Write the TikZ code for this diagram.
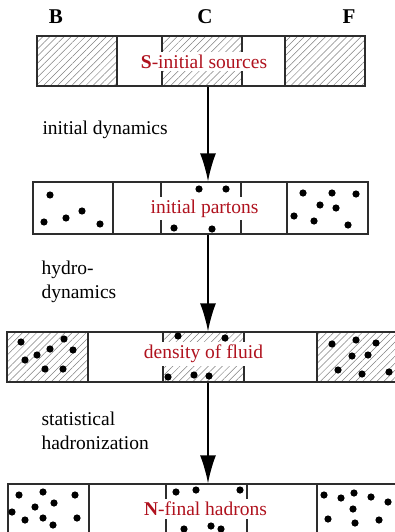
\documentclass[tikz,border=0pt]{standalone}
\usepackage{fontspec}
\setmainfont{Liberation Serif}
\usetikzlibrary{patterns.meta,arrows.meta}
\definecolor{tred}{RGB}{176,18,30}
\definecolor{bline}{RGB}{45,45,45}
\begin{document}
\begin{tikzpicture}[x=1pt,y=-1pt,
 hatch/.style={pattern={Lines[angle=45,distance=5pt,line width=0.5pt]},pattern color=black!50},
 frame/.style={draw=bline,line width=1.4pt},
 dot/.style={fill=black},
 lbl/.style={font=\fontsize{19.5}{24}\selectfont, text=tred, fill=white, inner xsep=4pt, inner ysep=3pt},
 side/.style={font=\fontsize{19.5}{24}\selectfont, anchor=base west},
 head/.style={font=\fontsize{21}{24}\selectfont\bfseries, anchor=base},
 arr/.style={line width=1.5pt, -{Latex[length=28pt,width=16pt]}}]
\useasboundingbox (0,0) rectangle (395,532);
\clip (0,0) rectangle (395,532);

% headers
\node[head] (hB) at (56,24) {B};
\node[head] (hC) at (205,24) {C};
\node[head] (hF) at (349,24) {F};

% ---------- row 1 ----------
\fill[hatch] (37,36) rectangle (117,86);
\fill[hatch] (285,36) rectangle (365,86);
\fill[hatch] (162,36) rectangle (242,86);
\draw[frame] (162,36) -- (162,86) (242,36) -- (242,86);
\node[frame, minimum width=328pt, minimum height=50pt, inner sep=0pt] (row1) at (201,61) {};
\draw[frame] (117,36) -- (117,86) (285,36) -- (285,86);
\node[lbl] (t1) at (204,61.5) {\textbf{S}-initial sources};

% ---------- row 2 ----------
\node[frame, minimum width=335pt, minimum height=52pt, inner sep=0pt] (row2) at (200.5,208) {};
\draw[frame] (113,182) -- (113,234) (287,182) -- (287,234);
\draw[frame] (161,182) -- (161,234) (241,182) -- (241,234);
\foreach \p in {(50,195),(44,222),(66,218),(82,211),(100,224),
                (199,189),(226,189),(174,228),(212,229),
                (303,193),(332,193),(356,194),(320,205),(336,208),(294,216),(314,221),(348,225)}
  \fill[dot] \p circle[radius=3.6pt];
\node[lbl] (t2) at (204.5,208.5) {initial partons};

% ---------- row 3 ----------
\fill[hatch] (7,332) rectangle (88,382);
\fill[hatch] (317,332) rectangle (400,382);
\fill[hatch] (163,332) rectangle (244,382);
\node[frame, minimum width=393pt, minimum height=50pt, inner sep=0pt] (row3) at (203.5,357) {};
\draw[frame] (88,332) -- (88,382) (317,332) -- (317,382);
\draw[frame] (163,332) -- (163,382) (244,332) -- (244,382);
\foreach \p in {(21,342),(64,339),(50,349),(73,350),(37,355),(25,360),(45,369),(63,369),
                (178,336),(225,338),(168,377),(194,375),(209,376),
                (332,344),(356,340),(376,343),(352,356),(368,355),(338,370),(362,374),(389,372)}
  \fill[dot] \p circle[radius=3.6pt];
\node[lbl] (t3) at (203.5,354) {density of fluid};

% ---------- row 4 ----------
\node[frame, minimum width=392pt, minimum height=60pt, inner sep=0pt] (row4) at (204,514) {};
\draw[frame] (89,484) -- (89,545) (317,484) -- (317,545);
\draw[frame] (166,484) -- (166,545) (247,484) -- (247,545);
\foreach \p in {(19,495),(43,492),(75,495),(54,503),(35,507),(12,512),(25,520),(43,518),(77,518),(53,525),
                (176,492),(196,490),(240,490),(184,529),(211,526),(221,529),
                (324,495),(341,498),(354,493),(371,497),(388,502),(353,509),(328,519),(355,523),(379,520)}
  \fill[dot] \p circle[radius=3.6pt];
\node[lbl] (t4) at (205.5,509) {\textbf{N}-final hadrons};

% ---------- arrows ----------
\coordinate (ax) at (208,0);
\draw[arr] (row1.south -| ax) -- (row2.north -| ax);
\draw[arr] (row2.south -| ax) -- (row3.north -| ax);
\draw[arr] (row3.south -| ax) -- (row4.north -| ax);

% ---------- side labels ----------
\node[side] (s1) at (39,135) {initial dynamics};
\node[side] (s2a) at (38,274) {hydro-};
\node[side] (s2b) at (38,298) {dynamics};
\node[side] (s3a) at (38,425) {statistical};
\node[side] (s3b) at (38,449) {hadronization};
\end{tikzpicture}
\end{document}
